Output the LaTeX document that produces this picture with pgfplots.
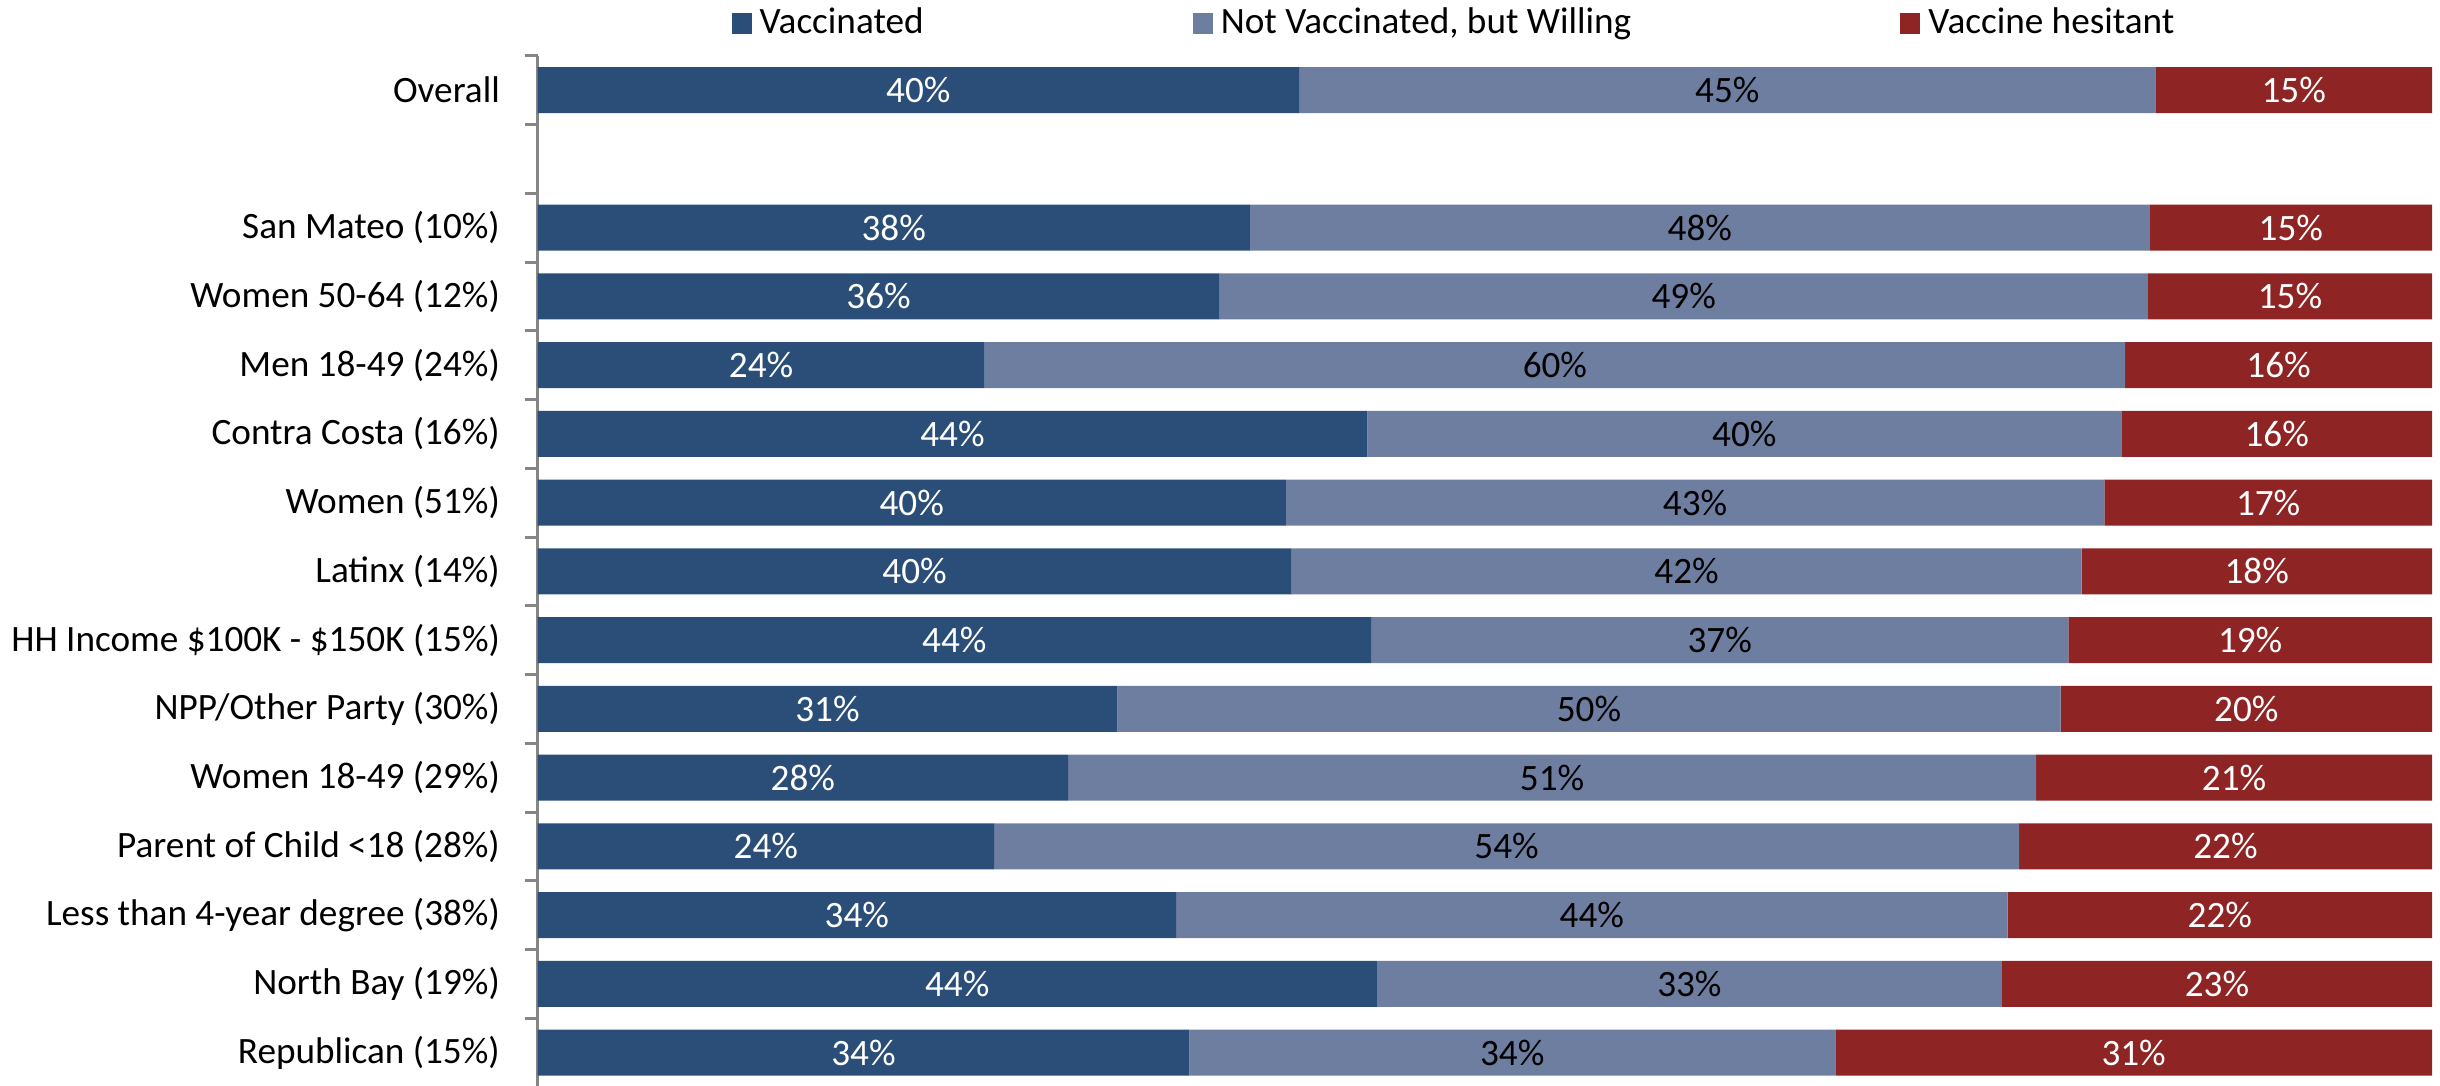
\documentclass[border=0pt]{standalone}
\usepackage{fontspec}
\setmainfont{Carlito}
\usepackage{pgfplots}
\pgfplotsset{compat=1.18}

\definecolor{vacc}{HTML}{2A4E77}
\definecolor{willing}{HTML}{6E7EA0}
\definecolor{hesit}{HTML}{8E2423}
\definecolor{axgray}{HTML}{868686}

% rows: 0 = Overall, 1 = blank, 2..14 = groups
\pgfplotstableread{
y  x     lab
0  40.2  40
2  37.6  38
3  36.0  36
4  23.6  24
5  43.8  44
6  39.5  40
7  39.8  40
8  44.0  44
9  30.6  31
10 28.0  28
11 24.1  24
12 33.7  34
13 44.3  44
14 34.4  34
}\vaccinated

\pgfplotstableread{
y  x     lab
0  45.2  45
2  47.5  48
3  49.0  49
4  60.2  60
5  39.8  40
6  43.2  43
7  41.7  42
8  36.8  37
9  49.8  50
10 51.1  51
11 54.1  54
12 43.9  44
13 33.0  33
14 34.1  34
}\willing

\pgfplotstableread{
y  x     lab
0  14.6  15
2  14.9  15
3  15.0  15
4  16.2  16
5  16.4  16
6  17.3  17
7  18.5  18
8  19.2  19
9  19.6  20
10 20.9  21
11 21.8  22
12 22.4  22
13 22.7  23
14 31.5  31
}\hesitant

\begin{document}
\fontsize{9.3pt}{11pt}\selectfont
\begin{tikzpicture}
\useasboundingbox (0,0) rectangle (610pt,271.25pt);
\begin{axis}[
    at={(134.4pt,-0.5pt)}, anchor=south west,
    width=473.6pt, height=257.8pt,
    scale only axis,
    xbar stacked,
    bar width=0.67,
    xmin=0, xmax=100,
    ymin=-0.5, ymax=14.5,
    y dir=reverse,
    axis x line=none,
    axis y line*=left,
    y axis line style={draw=axgray, line width=0.75pt},
    ytick={0,2,3,4,5,6,7,8,9,10,11,12,13,14},
    yticklabels={Overall, San Mateo (10\%), Women 50-64 (12\%), Men 18-49 (24\%),
        Contra Costa (16\%), Women (51\%), Latinx (14\%),
        HH Income \$100K - \$150K (15\%), NPP/Other Party (30\%),
        Women 18-49 (29\%), Parent of Child <18 (28\%),
        Less than 4-year degree (38\%), North Bay (19\%), Republican (15\%)},
    major tick length=0pt,
    minor ytick={-0.5,0.5,...,14.5},
    minor tick length=3.25pt,
    tick align=outside,
    minor tick style={draw=axgray, line width=0.75pt},
    yticklabel style={font=\fontsize{9.3pt}{11pt}\selectfont, anchor=east, inner sep=0pt, xshift=-9.25pt},
    point meta=explicit symbolic,
    nodes near coords={\pgfplotspointmeta\%},
    every node near coord/.append style={font=\fontsize{9.3pt}{11pt}\selectfont},
    legend columns=3,
    legend style={draw=none, at={(0.102,1.031)}, anchor=west, inner sep=0pt,
        font=\fontsize{9.3pt}{11pt}\selectfont,
        /tikz/every even column/.append style={column sep=65.3pt},
        cells={anchor=west}},
    legend image code/.code={\fill[#1] (0pt,-2.6pt) rectangle (5pt,2.6pt);},
]
\addplot[fill=vacc, draw=none, every node near coord/.append style={text=white}]
    table[x=x, y=y, meta=lab] {\vaccinated};
\addplot[fill=willing, draw=none, every node near coord/.append style={text=black}]
    table[x=x, y=y, meta=lab] {\willing};
\addplot[fill=hesit, draw=none, every node near coord/.append style={text=white}]
    table[x=x, y=y, meta=lab] {\hesitant};
\legend{Vaccinated, {Not Vaccinated, but Willing}, Vaccine hesitant}
\end{axis}
\end{tikzpicture}
\end{document}
